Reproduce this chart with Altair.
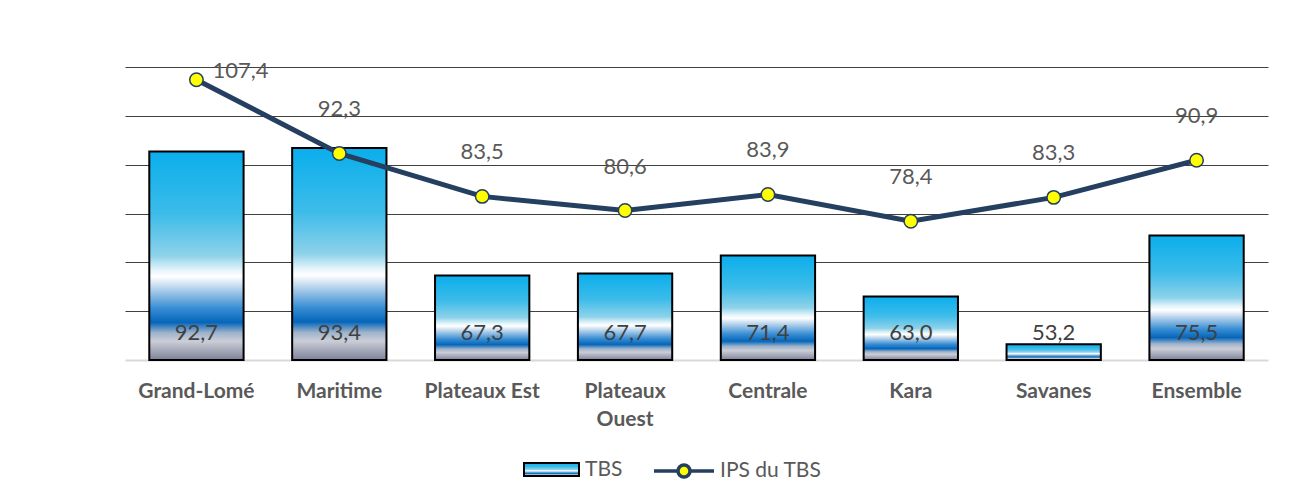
import altair as alt
import pandas as pd

regions = ["Grand-Lomé", "Maritime", "Plateaux Est", "Plateaux Ouest",
           "Centrale", "Kara", "Savanes", "Ensemble"]
tbs = [92.7, 93.4, 67.3, 67.7, 71.4, 63.0, 53.2, 75.5]
ips = [107.4, 92.3, 83.5, 80.6, 83.9, 78.4, 83.3, 90.9]
series_names = ["TBS", "IPS du TBS"]
y_ticks = [60, 70, 80, 90, 100, 110]

df = pd.DataFrame({"region": regions, "tbs": tbs, "ips": ips})
df["s_bar"] = series_names[0]
df["s_line"] = series_names[1]

FONT = "Lato"
TXT = "#595959"
NAVY = "#243f60"

gradient = alt.LinearGradient(
    gradient="linear", x1=0, y1=0, x2=0, y2=1,
    stops=[
        alt.GradientStop(offset=0.0, color="#0aaeec"),
        alt.GradientStop(offset=0.3, color="#3dbce9"),
        alt.GradientStop(offset=0.5, color="#8ed2ea"),
        alt.GradientStop(offset=0.57, color="#e6f5fb"),
        alt.GradientStop(offset=0.6, color="#ffffff"),
        alt.GradientStop(offset=0.66, color="#b2d0eb"),
        alt.GradientStop(offset=0.75, color="#3a8fd4"),
        alt.GradientStop(offset=0.82, color="#0566ba"),
        alt.GradientStop(offset=0.87, color="#9fb3cb"),
        alt.GradientStop(offset=0.91, color="#cbced7"),
        alt.GradientStop(offset=1.0, color="#7d829a"),
    ],
)

x = alt.X("region:N", sort=regions, title=None,
          scale=alt.Scale(paddingInner=0.34, paddingOuter=0.17),
          axis=alt.Axis(labelFont=FONT, labelFontSize=21, labelFontWeight="bold",
                        labelColor=TXT, labelAngle=0, ticks=False, labelPadding=20,
                        domainColor="#d9d9d9", domainWidth=2, labelLineHeight=28,
                        labelExpr="datum.value == 'Plateaux Ouest' ? ['Plateaux', 'Ouest'] : datum.value"))
yscale = alt.Scale(domain=[50, 110], zero=False, nice=False)

base = alt.Chart(df).transform_calculate(
    tbs_lbl="replace(format(datum.tbs, '.1f'), '.', ',')",
    ips_lbl="replace(format(datum.ips, '.1f'), '.', ',')",
)

bars = base.mark_bar(fill=gradient, strokeWidth=2).encode(
    x=x,
    y=alt.Y("tbs:Q", scale=yscale, title=None,
            axis=alt.Axis(values=y_ticks, grid=True, gridColor="#404040", gridWidth=1,
                          labels=False, ticks=False, domain=False)),
    y2=alt.datum(50),
    stroke=alt.Stroke("s_bar:N", scale=alt.Scale(domain=[series_names[0]], range=["black"]),
                      legend=alt.Legend(title=None, orient="none", legendX=398, legendY=374,
                                        symbolType="M-1,-0.24L1,-0.24L1,0.24L-1,0.24Z",
                                        symbolSize=3025, symbolStrokeWidth=2,
                                        symbolFillColor="#6cc8ee", padding=0,
                                        labelFont=FONT, labelFontSize=21, labelColor=TXT,
                                        labelOffset=5)),
)

bar_text = base.mark_text(font=FONT, fontSize=22, color="#404040", baseline="middle").encode(
    x=alt.X("region:N", sort=regions),
    y=alt.value(266),
    text="tbs_lbl:N",
)

line = base.mark_line(color=NAVY, strokeWidth=5).encode(
    x=alt.X("region:N", sort=regions),
    y=alt.Y("ips:Q", scale=yscale),
)

points = base.mark_point(filled=True, size=180, stroke=NAVY, strokeWidth=1.5, opacity=1).encode(
    x=alt.X("region:N", sort=regions),
    y=alt.Y("ips:Q", scale=yscale),
    fill=alt.Fill("s_line:N", scale=alt.Scale(domain=[series_names[1]], range=["#ffff00"]),
                  legend=alt.Legend(title=None, orient="none", legendX=527, legendY=372,
                                    symbolType="M-1,0L-0.22,0M0.22,0L1,0M0.2,0A0.2,0.2,0,1,1,-0.2,0A0.2,0.2,0,1,1,0.2,0Z",
                                    symbolSize=3600, symbolStrokeWidth=3.5,
                                    symbolStrokeColor=NAVY, padding=0,
                                    labelFont=FONT, labelFontSize=21, labelColor=TXT,
                                    labelOffset=4)),
)

line_text_first = base.transform_filter(
    alt.datum.region == regions[0]
).mark_text(font=FONT, fontSize=22, color=TXT, dx=44, dy=-9).encode(
    x=alt.X("region:N", sort=regions),
    y=alt.Y("ips:Q", scale=yscale),
    text="ips_lbl:N",
)

line_text = base.transform_filter(
    alt.datum.region != regions[0]
).mark_text(font=FONT, fontSize=22, color=TXT, dy=-44).encode(
    x=alt.X("region:N", sort=regions),
    y=alt.Y("ips:Q", scale=yscale),
    text="ips_lbl:N",
)

chart = alt.layer(bars, bar_text, line, points, line_text_first, line_text).properties(
    width=1143, height=293,
    autosize=alt.AutoSizeParams(type="none"),
    padding={"left": 117, "top": 59, "right": 15, "bottom": 128},
).configure_view(stroke=None)

chart.save("out.html", embed_options={"renderer": "svg", "actions": False})
